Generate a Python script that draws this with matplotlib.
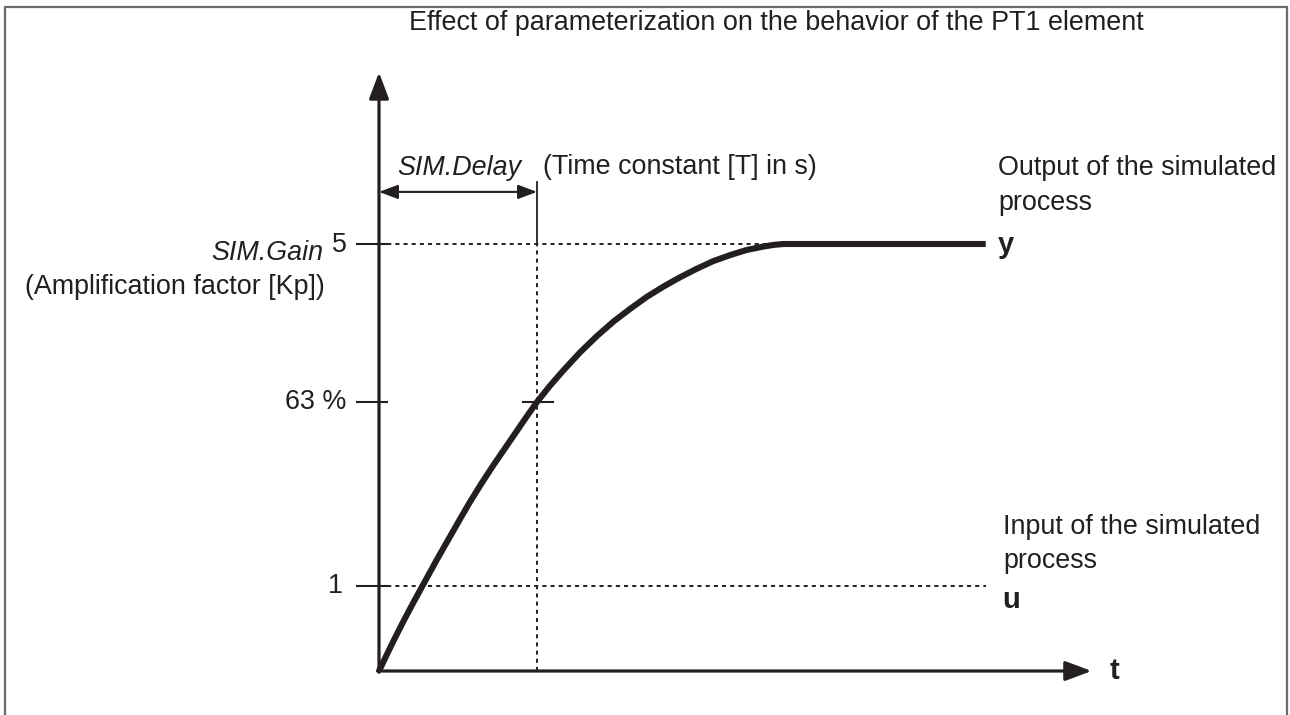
import matplotlib
matplotlib.use("Agg")
import matplotlib.pyplot as plt
from matplotlib.patches import Rectangle

# step response of the PT1 element (time in units of T, output in units of u)
t_curve = [0.0, 0.049, 0.091, 0.154, 0.217, 0.291, 0.365, 0.439, 0.513,
           0.576, 0.650, 0.724, 0.787, 0.861, 0.935, 1.0, 1.082, 1.167,
           1.272, 1.378, 1.483, 1.589, 1.694, 1.799, 1.905, 2.011, 2.116,
           2.222, 2.327, 2.432, 2.50, 2.56, 3.84]
y_curve = [0.0, 0.19, 0.35, 0.58, 0.80, 1.05, 1.30, 1.54, 1.78,
           1.98, 2.20, 2.41, 2.58, 2.78, 2.98, 3.15, 3.34, 3.52,
           3.73, 3.92, 4.09, 4.24, 4.38, 4.50, 4.61, 4.71, 4.80,
           4.87, 4.93, 4.97, 4.99, 5.0, 5.0]

u_level = 1.0          # input step
gain = 5.0             # SIM.Gain
time_const = 1.0       # SIM.Delay
pct_level = 0.63 * gain
t_end = 3.84           # end of the drawn signals
x_axis_end = 4.51
y_axis_end = 7.01

y_tick_vals = [u_level, pct_level, gain]
y_tick_text = ['1', '63 %', '5']

INK = '#231f20'
FONT = 'Liberation Sans'
FS = 19.4

W, H = 1290, 715
fig = plt.figure(figsize=(W / 100, H / 100), dpi=100)
fig.patch.set_facecolor('white')
ax = fig.add_axes([0, 0, 1, 1])
ax.axis('off')

# origin of the diagram sits at pixel (379, 671); 158 px per T, 85.4 px per unit
ox, oy, sx, sy = 379, 671, 158.0, 85.4
ax.set_xlim(-ox / sx, (W - ox) / sx)
ax.set_ylim(-(H - oy) / sy, oy / sy)


def px(x, y):
    return (x - ox) / sx, (oy - y) / sy


# frame around the drawing
fig.patches.append(Rectangle((4.5 / W, -0.01), (1287 - 4.5) / W, 1.01 - 7 / H,
                             transform=fig.transFigure, fill=False,
                             edgecolor='#6b6b6b', linewidth=1.6))

# axes with arrow heads
axis_arrow = dict(arrowstyle='-|>,head_length=16,head_width=6', lw=2.3,
                  color=INK, shrinkA=0, shrinkB=0, mutation_scale=1)
ax.annotate('', xy=(x_axis_end, 0), xytext=(-0.01, 0), arrowprops=axis_arrow)
ax.annotate('', xy=(0, y_axis_end), xytext=(0, -0.015), arrowprops=axis_arrow)

# dashed reference lines
dash = dict(color=INK, lw=1.4, dashes=(2.1, 2.1))
ax.plot([0, t_end], [u_level, u_level], **dash)
ax.plot([0, 2.49], [gain, gain], **dash)
ax.plot([time_const, time_const], [0, gain], **dash)
ax.plot([time_const, time_const], [gain, 5.73], color=INK, lw=1.3)

# tick marks on the y axis and at the 63 % point
tick_half = 0.14
for v in y_tick_vals:
    ax.plot([-tick_half, 0.05], [v, v], color=INK, lw=1.5)
ax.plot([time_const - 0.09, time_const + 0.10], [pct_level, pct_level],
        color=INK, lw=1.5)

# response curve
ax.plot(t_curve, y_curve, color=INK, lw=4.4, solid_capstyle='butt',
        solid_joinstyle='round')

# SIM.Delay dimension arrow
ax.annotate('', xy=(time_const, 5.61), xytext=(0, 5.61),
            arrowprops=dict(arrowstyle='<|-|>,head_length=11.5,head_width=4.3',
                            lw=1.5, color=INK, shrinkA=0, shrinkB=0,
                            mutation_scale=1))

txt = dict(fontfamily=FONT, fontsize=FS, color=INK)

# y tick labels
x_lbl = [-0.228, -0.209, -0.203]
y_lbl = [u_level, pct_level, 4.99]
for xl, yl, s in zip(x_lbl, y_lbl, y_tick_text):
    ax.text(xl, yl, s, ha='right', va='center', **txt)

ax.text(*px(323, 253), 'SIM.Gain', ha='right', va='center', style='italic', **txt)
ax.text(*px(325, 287), '(Amplification factor [Kp])', ha='right', va='center', **txt)
ax.text(*px(459.5, 168), 'SIM.Delay', ha='center', va='center', style='italic', **txt)
ax.text(*px(543, 167), '(Time constant [T] in s)', ha='left', va='center', **txt)

ax.text(*px(998, 168), 'Output of the simulated', ha='left', va='center', **txt)
ax.text(*px(998, 203), 'process', ha='left', va='center', **txt)
ax.text(*px(1003, 527), 'Input of the simulated', ha='left', va='center', **txt)
ax.text(*px(1003, 561), 'process', ha='left', va='center', **txt)

big = dict(fontfamily=FONT, fontsize=21, color=INK, fontweight='bold')
ax.text(*px(998, 245), 'y', ha='left', va='center', **big)
ax.text(*px(1002, 600), 'u', ha='left', va='center', **big)
ax.text(*px(1110, 671), 't', ha='left', va='center', **big)

fig.text(776 / W, 1 - 23 / H,
         'Effect of parameterization on the behavior of the PT1 element',
         ha='center', va='center', **txt)

fig.savefig('out.png', dpi=100, facecolor='white')
